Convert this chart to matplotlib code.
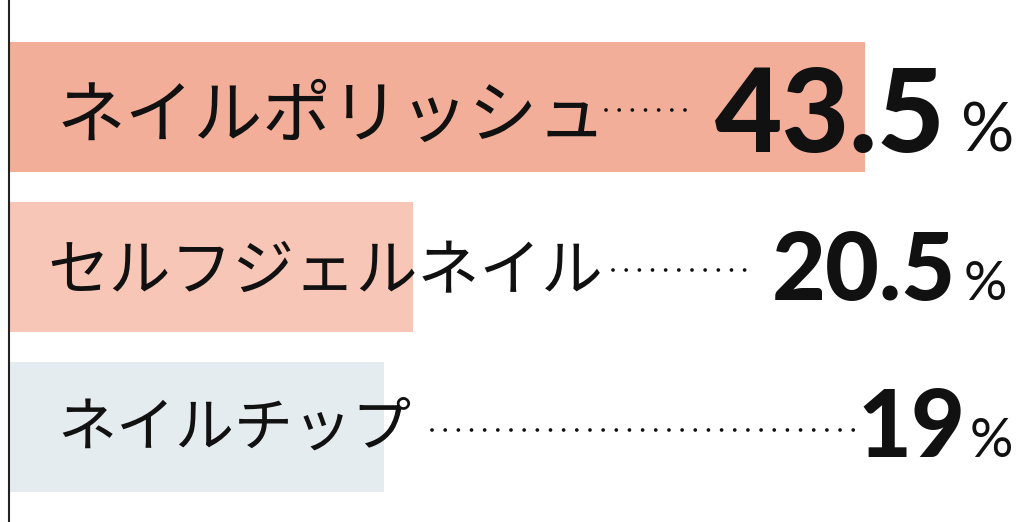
import matplotlib
matplotlib.use('Agg')
import matplotlib.pyplot as plt

# data
labels = ['ネイルポリッシュ', 'セルフジェルネイル', 'ネイルチップ']
values = [43.5, 20.5, 19]
value_text = ['43.5', '20.5', '19']
colors = ['#F3AE99', '#F7C6B7', '#E5ECF0']

W, H = 1024, 522
PX = 19.66  # pixels per percent
X0 = 10     # left edge of bars in pixels


def px_x(p):
    return (p - X0) / PX


fig = plt.figure(figsize=(W / 100, H / 100), dpi=100)
ax = fig.add_axes([0, 0, 1, 1])
ax.set_xlim(px_x(0), px_x(W))
# row pitch 160px, first row center at 107px
ax.set_ylim((H - 107) / 160, -107 / 160)
ax.axis('off')

ypos = list(range(len(values)))
ax.barh(ypos, values, height=130 / 160, color=colors, left=0, zorder=1)
ax.axvline(px_x(8.5), color='#222222', lw=1.5, zorder=3)

jp_font = ['Noto Sans CJK JP', 'DejaVu Sans']
label_x = [57, 47, 57]
label_size = [49.5, 44.5, 42.5]
label_dy = [0.065, 0.03, 0.015]
lead = [(606, 697), (613, 752), (432, 860)]
num_right = [946, 956, 965]
pct_left = [960, 964, 970]
num_base = [0.28, 0.205, 0.19]
num_size = [84, 67, 67]
pct_size = [48, 39, 39]

for i, (lab, txt) in enumerate(zip(labels, value_text)):
    y = ypos[i]
    ax.text(px_x(label_x[i]), y + label_dy[i], lab, fontsize=label_size[i],
            family=jp_font, va='center', ha='left', color='#111111', zorder=4)
    # dotted leader
    ax.plot([px_x(lead[i][0]), px_x(lead[i][1])], [y + 0.02, y + 0.02],
            color='#111111', lw=2.7, linestyle=(0, (0.01, 3.5)),
            dash_capstyle='round', zorder=4)
    ax.text(px_x(num_right[i]), y + num_base[i], txt, fontsize=num_size[i],
            family='Lato', fontweight='black', ha='right', va='baseline',
            color='#111111', zorder=4)
    ax.text(px_x(pct_left[i]), y + num_base[i], '%', fontsize=pct_size[i],
            family='Lato', fontweight='normal', ha='left', va='baseline',
            color='#111111', zorder=4)

fig.savefig('out.png', dpi=100, facecolor='white')
